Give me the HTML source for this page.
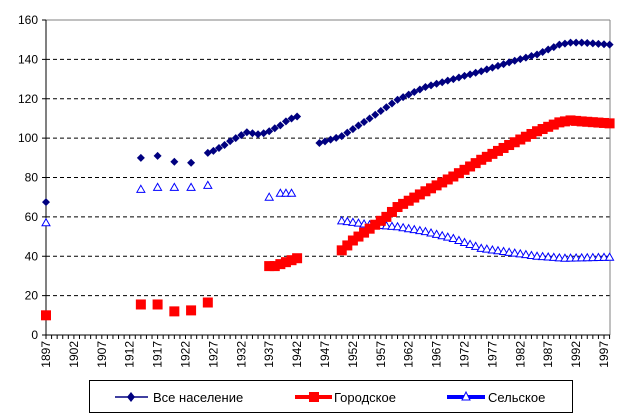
<!DOCTYPE html>
<html><head><meta charset="utf-8"><style>
body{margin:0;background:#fff}
svg{display:block;font-family:"Liberation Sans",Arial,sans-serif}
</style></head><body>
<svg id="s" width="641" height="420" xmlns="http://www.w3.org/2000/svg">
<rect width="641" height="420" fill="#fff"/>
<g id="grid"></g>
<line x1="46" y1="20" x2="610" y2="20" stroke="#808080"/>
<line x1="610" y1="20" x2="610" y2="335" stroke="#808080"/>
<line x1="46" y1="20" x2="46" y2="335" stroke="#000"/>
<line x1="46" y1="335" x2="610" y2="335" stroke="#000"/>
<g id="ticks"></g>
<g id="data"></g>
<rect x="89.5" y="380.5" width="483" height="32" fill="#fff" stroke="#000"/>
<line x1="115" y1="397" x2="148" y2="397" stroke="#000080" stroke-width="1.5"/>
<polygon points="131,392 135,397 131,402 127,397" fill="#000080"/>
<text x="153" y="402" font-size="13">Все население</text>
<line x1="295" y1="397" x2="332" y2="397" stroke="#f00" stroke-width="4"/>
<rect x="309" y="392" width="10" height="10" fill="#f00"/>
<text x="334" y="402" font-size="13">Городское</text>
<line x1="447" y1="397" x2="485" y2="397" stroke="#00f" stroke-width="4"/>
<polygon points="466,392 470,400 462,400" fill="#fff" stroke="#00f"/>
<text x="488" y="402" font-size="13">Сельское</text>
</svg>
<script>
const NS="http://www.w3.org/2000/svg";
function el(p,t,a,txt){const e=document.createElementNS(NS,t);for(const k in a)e.setAttribute(k,a[k]);if(txt!==undefined)e.textContent=txt;document.getElementById(p).appendChild(e);}
const X=y=>46+(y-1897)*5.58, Y=v=>335-v*315/160;
for(let v=0;v<=160;v+=20){const y=Y(v);
 if(v>0&&v<160)el("grid","line",{x1:46,y1:y,x2:610,y2:y,stroke:"#000","stroke-dasharray":"4,3"});
 el("ticks","line",{x1:42,y1:y,x2:46,y2:y,stroke:"#000"});
 el("ticks","text",{x:38,y:y+4,"font-size":12,"text-anchor":"end"},v);}
for(let yr=1897;yr<=1998;yr++){const x=X(yr);el("ticks","line",{x1:x,y1:335,x2:x,y2:339,stroke:"#000"});
 if((yr-1897)%5==0)el("ticks","text",{x:0,y:0,"font-size":12,"text-anchor":"end",transform:`translate(${x+4},341) rotate(-90)`},yr);}
function interp(k){const out=[];for(let i=0;i<k.length-1;i++){const[a,va]=k[i],[b,vb]=k[i+1];for(let y=a;y<b;y++)out.push([y,va+(vb-va)*(y-a)/(b-a)]);}out.push(k[k.length-1]);return out;}
const tot=[[1897,67.5],[1914,90],[1917,91],[1920,88],[1923,87.5],[1926,92.5],[1927,93.5],[1928,95],[1929,96.5],[1930,98.5],[1931,100],[1932,101.5],[1933,103],[1934,102.5],[1935,102],[1936,102.5],[1937,103.5],[1938,105],[1939,106.5],[1940,108.5],[1941,110],[1942,111]]
 .concat(interp([[1946,97.5],[1950,101],[1955,110],[1960,119.5],[1965,126],[1970,130],[1975,134],[1980,138.5],[1985,142.5],[1989,147.5],[1991,148.5],[1993,148.5],[1998,147.5]]));
const urb=[[1897,10],[1914,15.5],[1917,15.5],[1920,12],[1923,12.5],[1926,16.5],[1937,35],[1938,35],[1939,36],[1940,37],[1941,38],[1942,39]]
 .concat(interp([[1950,43],[1952,48],[1955,54],[1958,60],[1960,65],[1965,73],[1970,80.5],[1975,89],[1980,96.5],[1985,103.5],[1989,108],[1991,109],[1993,108.5],[1998,107.5]]));
const rur=[[1897,57],[1914,74],[1917,75],[1920,75],[1923,75],[1926,76],[1937,70],[1939,72],[1940,72],[1941,72]]
 .concat(interp([[1950,58],[1955,56],[1960,55],[1965,52.5],[1970,49],[1975,44],[1980,42],[1985,40],[1990,39],[1998,39.5]]));
rur.forEach(([y,v])=>{const x=X(y),yy=Y(v);el("data","polygon",{points:`${x},${yy-4} ${x+4},${yy+3} ${x-4},${yy+3}`,fill:"#fff",stroke:"#00f"});});
urb.forEach(([y,v])=>{const x=X(y),yy=Y(v);el("data","rect",{x:x-5,y:yy-5,width:10,height:10,fill:"#f00"});});
tot.forEach(([y,v])=>{const x=X(y),yy=Y(v);el("data","polygon",{points:`${x},${yy-4} ${x+4},${yy} ${x},${yy+4} ${x-4},${yy}`,fill:"#000080"});});
</script>
</body></html>
